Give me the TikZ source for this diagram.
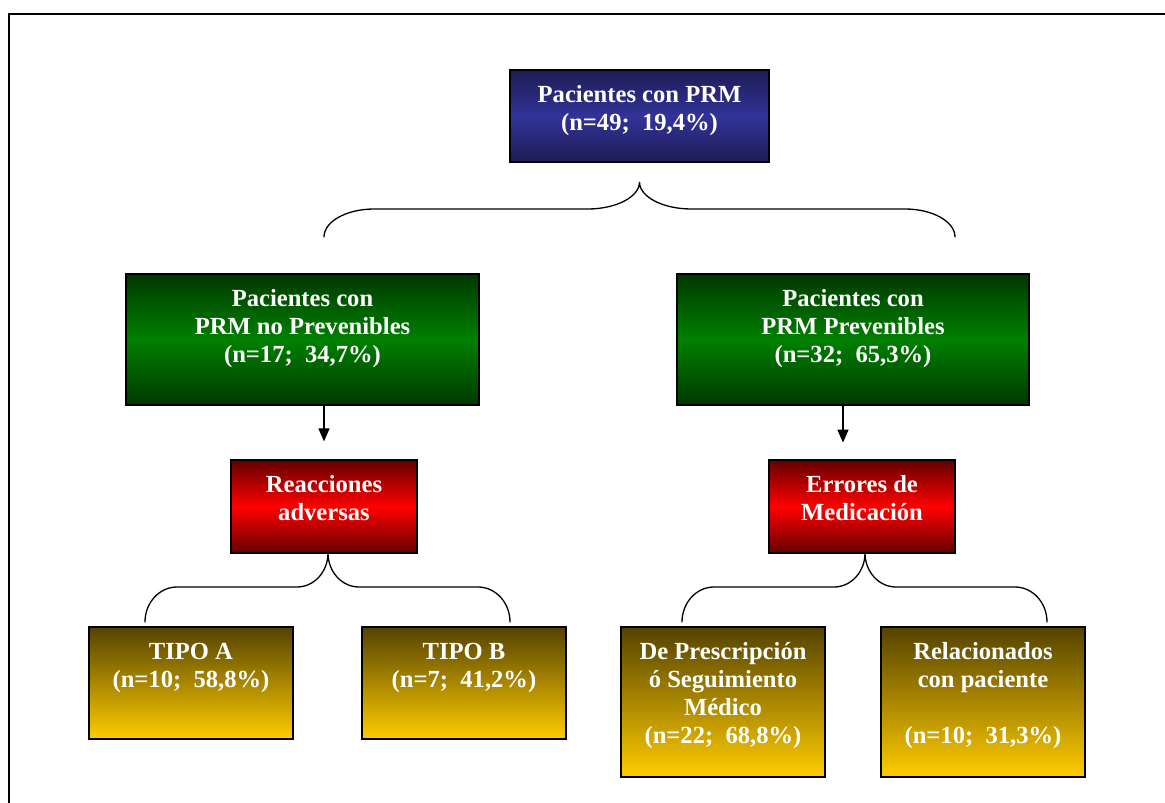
\documentclass[tikz,border=0pt]{standalone}
\usepackage{fontspec}
\setmainfont{Liberation Serif}
\usetikzlibrary{arrows.meta,calc}
\definecolor{blueE}{HTML}{1C1C55}
\definecolor{blueM}{HTML}{333399}
\definecolor{greenE}{HTML}{003800}
\definecolor{greenM}{HTML}{008000}
\definecolor{redE}{HTML}{640000}
\definecolor{redM}{HTML}{FF0000}
\definecolor{yelT}{HTML}{554200}
\definecolor{yelB}{HTML}{FFCC00}
\newcommand\bxt[3]{\parbox[c][#2][t]{#1}{\centering\rule{0pt}{32pt}#3}}
% curly brace: #1 x-left, #2 x-tip, #3 x-right, #4 y-ends, #5 y-mid, #6 y-tip, #7 outer radius, #8 inner radius
\newcommand\curlybrace[8]{%
  \draw[bracestyle] (#1,#4) .. controls (#1,{#4-0.552*(#4-#5)}) and ({#1+0.448*#7},#5) .. ({#1+#7},#5)
    -- ({#2-#8},#5) .. controls ({#2-0.448*#8},#5) and (#2,{#5-0.448*(#5-#6)}) .. (#2,#6)
    .. controls (#2,{#5-0.448*(#5-#6)}) and ({#2+0.448*#8},#5) .. ({#2+#8},#5)
    -- ({#3-#7},#5) .. controls ({#3-0.448*#7},#5) and (#3,{#4-0.552*(#4-#5)}) .. (#3,#4);}
\tikzset{
  box/.style={draw=black, line width=1.2pt, inner sep=0pt, text=white,
    font=\fontsize{24.6}{28.3}\selectfont\bfseries},
  bluebox/.style={box, top color=blueE, bottom color=blueE, middle color=blueM},
  greenbox/.style={box, top color=greenE, bottom color=greenE, middle color=greenM},
  redbox/.style={box, top color=redE, bottom color=redE, middle color=redM},
  yelbox/.style={box, top color=yelT, bottom color=yelB},
  arr/.style={line width=1.5pt, -{Triangle[length=13pt,width=11pt]}},
  bracestyle/.style={line width=1.3pt, line cap=round}
}
\begin{document}
\begin{tikzpicture}[x=1pt,y=-1pt]
\useasboundingbox (0,0) rectangle (1165,803);
\clip (0,0) rectangle (1165,803);
\fill[white] (0,0) rectangle (1165,803);
% frame
\draw[line width=1.5pt] (9,830) -- (9,14) -- (1190,14);

\node[bluebox] (top) at (639.5,116) {\bxt{259pt}{92pt}{Pacientes con PRM\\(n=49;\ \ 19,4\%)}};

\node[greenbox] (gl) at (302.5,339.5) {\bxt{353pt}{131pt}{Pacientes con\\PRM no Prevenibles\\(n=17;\ \ 34,7\%)}};
\node[greenbox] (gr) at (853,339.5) {\bxt{352pt}{131pt}{Pacientes con\\PRM Prevenibles\\(n=32;\ \ 65,3\%)}};

\node[redbox] (rl) at (324,506.5) {\bxt{186pt}{93pt}{Reacciones\\adversas}};
\node[redbox] (rr) at (862,506.5) {\bxt{186pt}{93pt}{Errores de\\Medicación}};

\node[yelbox] (ya) at (191,683) {\bxt{204pt}{112pt}{TIPO A\\(n=10;\ \ 58,8\%)}};
\node[yelbox] (yb) at (464,683) {\bxt{204pt}{112pt}{TIPO B\\(n=7;\ \ 41,2\%)}};
\node[yelbox] (yc) at (723,702) {\bxt{204pt}{150pt}{De Prescripción\\ó Seguimiento\\Médico\\(n=22;\ \ 68,8\%)}};
\node[yelbox] (yd) at (983,702) {\bxt{204pt}{150pt}{Relacionados\\con paciente\\\mbox{}\\(n=10;\ \ 31,3\%)}};

% arrows
\draw[arr] (gl.south -| rl.north) -- ([yshift=18pt]rl.north);
\draw[arr] ([xshift=-10pt]gr.south) -- ([xshift=-10pt,yshift=-37pt]gr.south);

% braces
\curlybrace{324}{639.5}{955}{237}{209}{182}{50}{52}
\curlybrace{145}{328}{510}{622}{587}{553}{32}{31}
\curlybrace{682}{865}{1047}{622}{587}{553}{32}{31}
\end{tikzpicture}
\end{document}
